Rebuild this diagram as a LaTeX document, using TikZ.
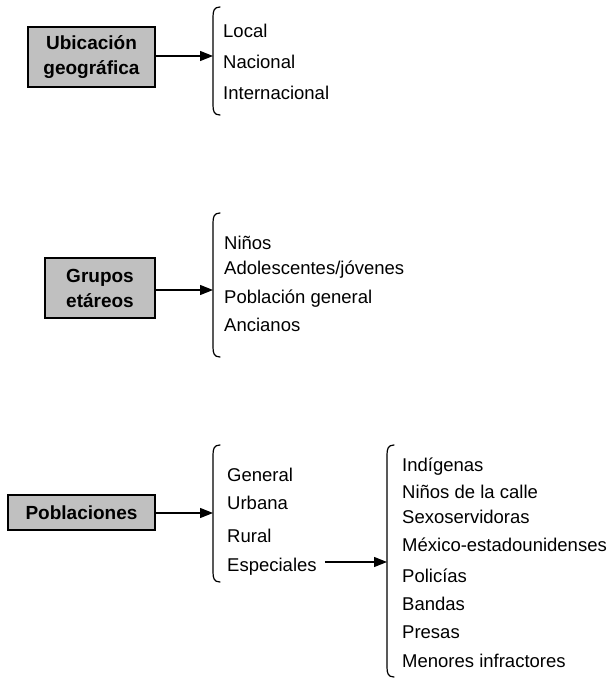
\documentclass[tikz,border=0pt]{standalone}
\usepackage{fontspec}
\setmainfont{Liberation Sans}
\usetikzlibrary{arrows.meta}
\begin{document}
\begin{tikzpicture}[x=1pt,y=-1pt,
  catbox/.style={draw=black, line width=1.1pt, fill=boxgray, inner sep=0pt, align=center,
    font=\fontsize{19}{25}\selectfont\bfseries},
  item/.style={anchor=west, inner sep=0pt, text height=13.2pt, text depth=0pt,
    font=\fontsize{18.5}{22}\selectfont},
  conn/.style={line width=1.2pt, -{Triangle[length=13pt,width=10pt]}},
  brk/.style={line width=1.2pt, line cap=round}
]
\definecolor{boxgray}{HTML}{C0C0C0}
\useasboundingbox (0,0) rectangle (613,678);

% ---- Group 1
\node[catbox, minimum width=127pt, minimum height=60pt] (ubic) at (91.5,57) {Ubicación\\geográfica};
\coordinate (b1) at (213,56);
\draw[brk] (220,7) .. controls (214,7) and (213,11) .. (213,17) -- (213,105) .. controls (213,111) and (214,115) .. (220,115);
\draw[conn] (ubic.east |- b1) -- (b1);
\node[item] (local) at (223,31) {Local};
\node[item] (nac) at (223,62) {Nacional};
\node[item] (inter) at (223,93) {Internacional};

% ---- Group 2
\node[catbox, minimum width=110pt, minimum height=60pt] (grupos) at (100,288) {Grupos\\etáreos};
\coordinate (b2) at (213,290);
\draw[brk] (220,213) .. controls (214,213) and (213,217) .. (213,223) -- (213,347) .. controls (213,353) and (214,357) .. (220,357);
\draw[conn] (grupos.east |- b2) -- (b2);
\node[item] (ninos) at (224,243) {Niños};
\node[item] (adol) at (224,268) {Adolescentes/jóvenes};
\node[item] (pobgen) at (224,297) {Población general};
\node[item] (anc) at (224,325) {Ancianos};

% ---- Group 3
\node[catbox, minimum width=147pt, minimum height=35pt] (pobl) at (81.5,512.5) {Poblaciones};
\coordinate (b3) at (213,513);
\draw[brk] (220,445) .. controls (214,445) and (213,449) .. (213,455) -- (213,572) .. controls (213,578) and (214,582) .. (220,582);
\draw[conn] (pobl.east |- b3) -- (b3);
\node[item] (gen) at (227,475) {General};
\node[item] (urb) at (227,503) {Urbana};
\node[item] (rur) at (227,536) {Rural};
\node[item] (esp) at (227,565) {Especiales};

\coordinate (b4) at (387,562);
\draw[brk] (394,445) .. controls (388,445) and (387,449) .. (387,455) -- (387,667) .. controls (387,673) and (388,677) .. (394,677);
\draw[conn] ([xshift=8pt]esp.east |- b4) -- (b4);
\node[item] (ind) at (402,465) {Indígenas};
\node[item] (ncalle) at (402,492) {Niños de la calle};
\node[item] (sexo) at (402,517) {Sexoservidoras};
\node[item] (mex) at (402,545) {México-estadounidenses};
\node[item] (pol) at (402,576) {Policías};
\node[item] (band) at (402,604) {Bandas};
\node[item] (pres) at (402,632) {Presas};
\node[item] (men) at (402,661) {Menores infractores};
\end{tikzpicture}
\end{document}
